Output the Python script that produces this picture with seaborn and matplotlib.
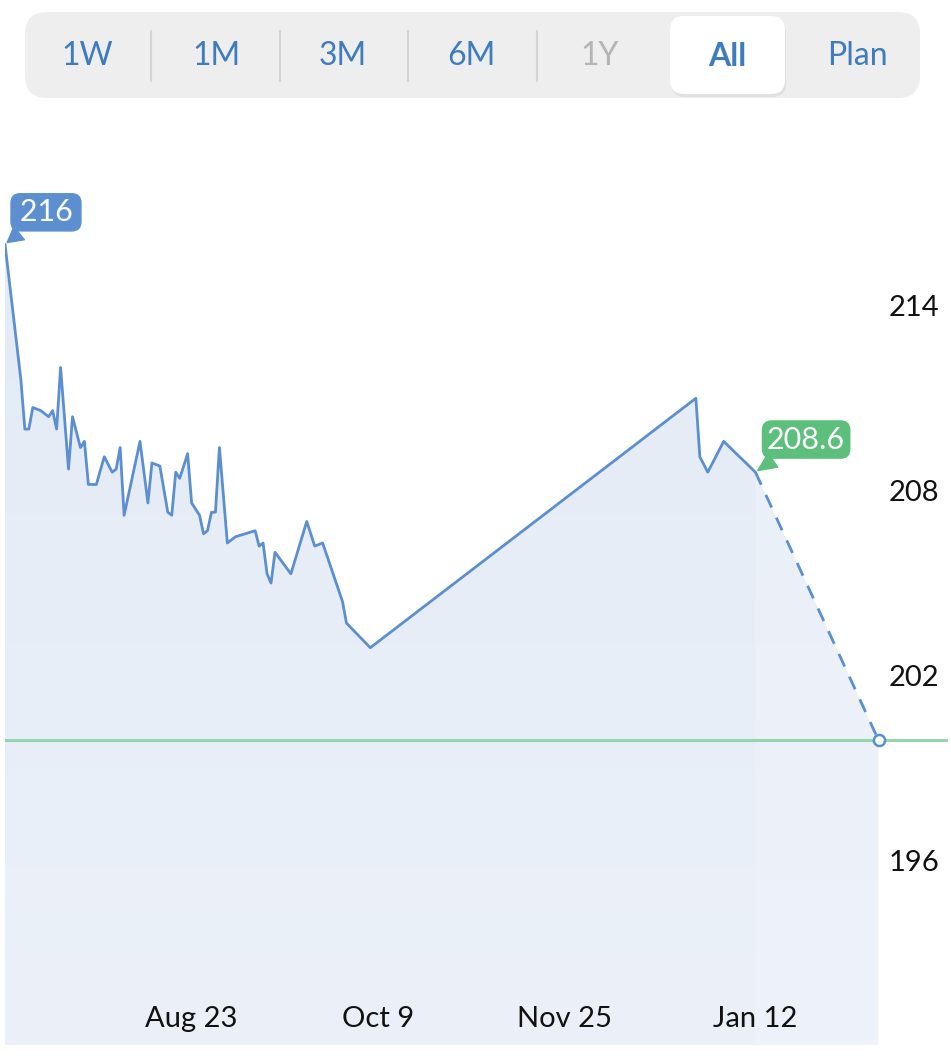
import pandas as pd
import numpy as np
import matplotlib.pyplot as plt
import matplotlib.dates as mdates
from matplotlib.patches import FancyBboxPatch
from matplotlib.colors import LinearSegmentedColormap
import seaborn as sns

# --------------------------------------------
# 1. DATA
# --------------------------------------------
dates = [
    "2023-07-07", "2023-07-11", "2023-07-12", "2023-07-13", "2023-07-14",
    "2023-07-16", "2023-07-18", "2023-07-19", "2023-07-20", "2023-07-21",
    "2023-07-23", "2023-07-24", "2023-07-26", "2023-07-27", "2023-07-28",
    "2023-07-30", "2023-08-01", "2023-08-03", "2023-08-04", "2023-08-05",
    "2023-08-06", "2023-08-10", "2023-08-12", "2023-08-13", "2023-08-15",
    "2023-08-17", "2023-08-18", "2023-08-19", "2023-08-20", "2023-08-22",
    "2023-08-23", "2023-08-25", "2023-08-26", "2023-08-27", "2023-08-28",
    "2023-08-29", "2023-08-30", "2023-09-01", "2023-09-03", "2023-09-08",
    "2023-09-09", "2023-09-10", "2023-09-11", "2023-09-12", "2023-09-13",
    "2023-09-17", "2023-09-21", "2023-09-23", "2023-09-25", "2023-09-30",
    "2023-10-01", "2023-10-07", "2023-12-28", "2023-12-29", "2023-12-31",
    "2024-01-04", "2024-01-12",
]
weights = [
    216.0, 211.6, 210.0, 210.0, 210.7,
    210.6, 210.4, 210.6, 210.0, 212.0,
    208.7, 210.4, 209.4, 209.6, 208.2,
    208.2, 209.1, 208.6, 208.7, 209.4,
    207.2, 209.6, 207.6, 208.9, 208.8,
    207.3, 207.2, 208.6, 208.4, 209.2,
    207.6, 207.2, 206.6, 206.7, 207.3,
    207.3, 209.4, 206.3, 206.5, 206.7,
    206.2, 206.3, 205.3, 205.0, 206.0,
    205.3, 207.0, 206.2, 206.3, 204.4,
    203.7, 202.9, 211.0, 209.1, 208.6,
    209.6, 208.6,
]

forecast_dates = ["2024-01-12", "2024-02-12"]
forecast_weights = [208.6, 199.9]
target_weight = 199.9

tick_dates = ["2023-08-23", "2023-10-09", "2023-11-25", "2024-01-12"]
tick_labels = ["Aug 23", "Oct 9", "Nov 25", "Jan 12"]
y_ticks = [196, 202, 208, 214]

buttons = ["1W", "1M", "3M", "6M", "1Y", "All", "Plan"]

df = pd.DataFrame({"date": pd.to_datetime(dates), "weight": weights})
fc = pd.DataFrame({"date": pd.to_datetime(forecast_dates), "weight": forecast_weights})

# --------------------------------------------
# 2. SETTINGS
# --------------------------------------------
sns.set_theme(style="white")
plt.rcParams["font.family"] = ["Lato", "DejaVu Sans"]

LINE = "#5b8fd0"
BLUE_TXT = "#3e7cbc"
GREEN = "#5cbf7c"
W, H = 951, 1060
Y_MIN, Y_MAX = 190, 220.36

fig = plt.figure(figsize=(W / 100, H / 100), dpi=100)
fig.patch.set_facecolor("white")

# --------------------------------------------
# 3. MAIN CHART
# --------------------------------------------
ax = fig.add_axes([5 / W, 15 / H, 943 / W, 935 / H])
ax.set_facecolor("white")


def gradient_fill(frame, bottom_color, top_color, z):
    # soft vertical gradient clipped to the area under the line
    poly = ax.fill_between(frame["date"], frame["weight"], Y_MIN,
                           facecolor="none", edgecolor="none", lw=0)
    cmap = LinearSegmentedColormap.from_list("g", [bottom_color, top_color])
    x0 = mdates.date2num(frame["date"].iloc[0])
    x1 = mdates.date2num(frame["date"].iloc[-1])
    im = ax.imshow(np.linspace(0, 1, 256).reshape(-1, 1), cmap=cmap, aspect="auto",
                   origin="lower", extent=[x0, x1, Y_MIN, frame["weight"].max()],
                   zorder=z, interpolation="bilinear")
    im.set_clip_path(poly.get_paths()[0], transform=ax.transData)


# light area under history + forecast, then darker area under history only
full = pd.concat([df, fc.iloc[1:]], ignore_index=True)
gradient_fill(full, "#eef2fa", "#e9eff8", 1)
gradient_fill(df, "#ecf1f9", "#e3ebf6", 1.1)

ax.axhline(target_weight, color="#93d6ae", lw=2.2, zorder=2)

sns.lineplot(data=df, x="date", y="weight", ax=ax, color=LINE, lw=2, zorder=3)
ax.plot(fc["date"], fc["weight"], color=LINE, lw=2, dashes=(5, 4), zorder=3)
ax.plot(fc["date"].iloc[-1], fc["weight"].iloc[-1], "o", ms=8, mfc="white",
        mec=LINE, mew=1.8, zorder=4)

# tooltips
ax.annotate("\u2009216\u2009", xy=(df["date"].iloc[0], df["weight"].iloc[0]),
            xytext=(29.5, 23), textcoords="offset points", ha="center", va="center",
            fontsize=22, color="white",
            bbox=dict(boxstyle="round,pad=0.15,rounding_size=0.3", fc=LINE, ec=LINE),
            arrowprops=dict(arrowstyle="wedge,tail_width=0.55", fc=LINE, ec=LINE,
                            relpos=(0.2, 0.0)), zorder=5)
ax.annotate("208.6", xy=(df["date"].iloc[-1], df["weight"].iloc[-1]),
            xytext=(36.5, 23.5), textcoords="offset points", ha="center", va="center",
            fontsize=22, color="white",
            bbox=dict(boxstyle="round,pad=0.15,rounding_size=0.3", fc=GREEN, ec=GREEN),
            arrowprops=dict(arrowstyle="wedge,tail_width=0.55", fc=GREEN, ec=GREEN,
                            relpos=(0.2, 0.0)), zorder=5)

x_start = pd.Timestamp("2023-07-07")
ax.set_xlim(x_start, x_start + pd.Timedelta(days=237.5))
ax.set_ylim(Y_MIN, Y_MAX)

ax.set_xticks(pd.to_datetime(tick_dates))
ax.set_xticklabels(tick_labels)
ax.set_yticks(y_ticks)
ax.set_yticklabels([str(v) for v in y_ticks])
ax.yaxis.tick_right()
ax.tick_params(axis="y", length=0, pad=-43, labelsize=21, labelcolor="#111111")
ax.tick_params(axis="x", length=0, pad=-28, labelsize=21, labelcolor="#111111")
ax.xaxis.set_zorder(6)
ax.yaxis.set_zorder(6)
ax.set_xlabel("")
ax.set_ylabel("")
for s in ax.spines.values():
    s.set_visible(False)

# --------------------------------------------
# 4. RANGE BUTTON BAR
# --------------------------------------------
bar = fig.add_axes([0, 0, 1, 1], zorder=10)
bar.set_xlim(0, W)
bar.set_ylim(H, 0)
bar.axis("off")

bar.add_patch(FancyBboxPatch((25, 12), 895, 86, boxstyle="round,pad=0,rounding_size=22",
                             fc="#eeeeee", ec="none"))
bar.add_patch(FancyBboxPatch((671, 19), 115, 78, boxstyle="round,pad=0,rounding_size=14",
                             fc="#000000", ec="none", alpha=0.06))
bar.add_patch(FancyBboxPatch((670, 16), 115, 78, boxstyle="round,pad=0,rounding_size=14",
                             fc="white", ec="none"))

centers = [87, 216, 343, 471, 600, 727, 857]
for sx in [151, 280, 408, 537]:
    bar.plot([sx, sx], [31, 81], color="#d4d4d4", lw=1.5)
for name, cx in zip(buttons, centers):
    color = "#b5b5b5" if name == "1Y" else BLUE_TXT
    weight = "bold" if name == "All" else "normal"
    bar.text(cx, 56, name, ha="center", va="center", fontsize=23,
             color=color, fontweight=weight)

fig.savefig("out.png", dpi=100, facecolor="white")
